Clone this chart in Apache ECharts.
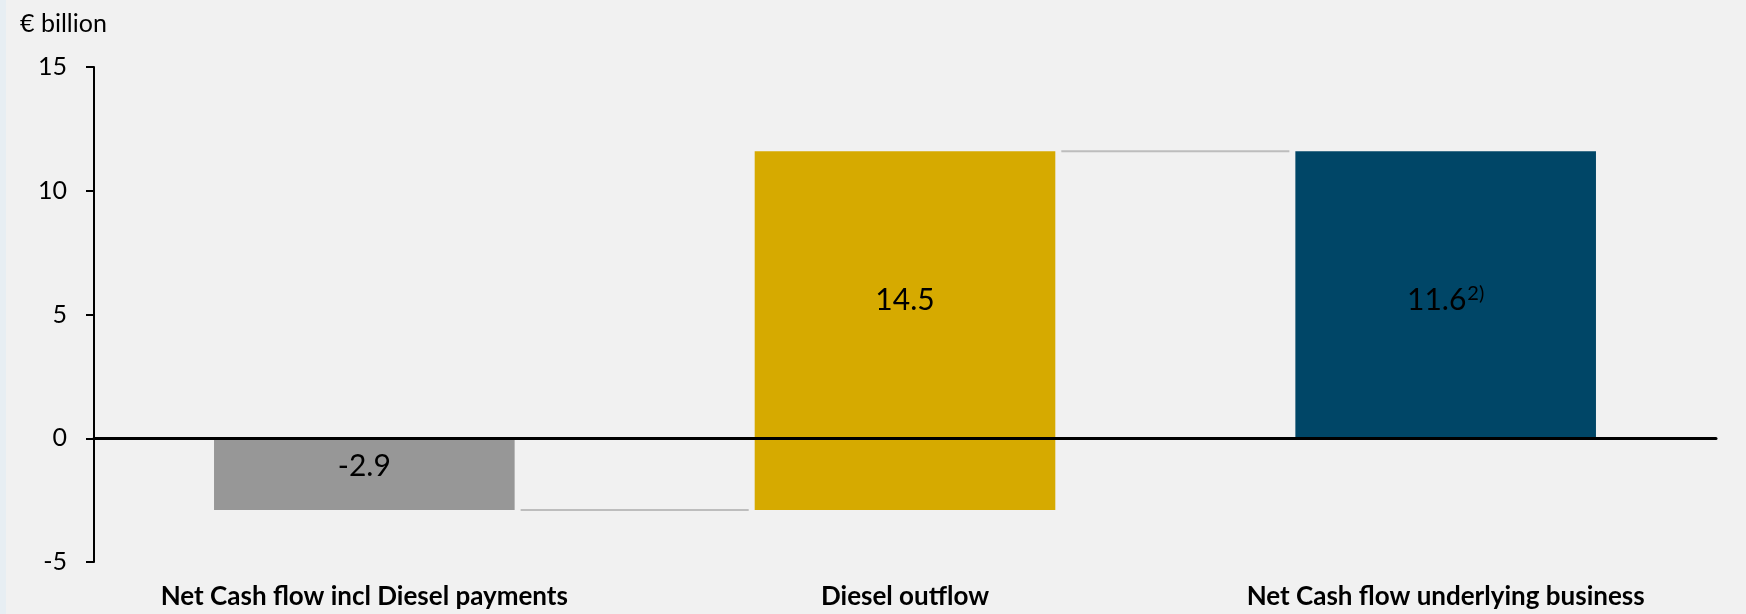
<!DOCTYPE html>
<html>
<head>
<meta charset="utf-8">
<script src="https://cdn.jsdelivr.net/npm/echarts@6/dist/echarts.min.js"></script>
<style>
  html, body { margin: 0; padding: 0; background: #f1f1f1; }
  #chart { width: 1746px; height: 614px; }
</style>
</head>
<body>
<div id="chart"></div>
<script>
// ---- data ----
const unitLabel = '€ billion';
const categories = ['Net Cash flow incl Diesel payments', 'Diesel outflow', 'Net Cash flow underlying business'];
const values = [-2.9, 14.5, 11.6];
const kinds = ['start', 'change', 'total'];
const footnotes = ['', '', '2)'];
const barColors = ['#979797', '#d6aa00', '#004667'];
const labelColors = ['#000000', '#000000', '#ffffff'];
const yTicks = { min: -5, max: 15, interval: 5 };

// ---- waterfall build ----
const rows = [];
let running = 0;
values.forEach((v, i) => {
  let s, e;
  if (kinds[i] === 'total') { s = 0; e = v; running = v; }
  else if (kinds[i] === 'start') { s = 0; e = v; running = v; }
  else { s = running; e = running + v; running = e; }
  rows.push([i, s, e, v]);
});
const connectors = [];
for (let i = 0; i < rows.length - 1; i++) {
  connectors.push([i, i + 1, rows[i][2]]);
}

const FONT = 'Lato';
const BAR_FRAC = 0.556;

const chart = echarts.init(document.getElementById('chart'), null, { renderer: 'canvas' });
chart.setOption({
  backgroundColor: '#f1f1f1',
  animation: false,
  textStyle: { fontFamily: FONT },
  title: {
    text: unitLabel, left: 15, top: 6,
    textStyle: { fontFamily: FONT, fontSize: 25, fontWeight: 'normal', color: '#000' }
  },
  graphic: [{
    type: 'rect', left: 0, top: 0, shape: { width: 6, height: 614 },
    style: { fill: '#e7eef3' }, silent: true
  }],
  grid: { left: 94, right: 30, top: 67, bottom: 52, containLabel: false },
  xAxis: [{
    type: 'category', data: categories, position: 'bottom',
    axisLine: { show: false, onZero: false },
    axisTick: { show: false },
    axisLabel: { fontFamily: FONT, fontSize: 26, fontWeight: 'bold', color: '#000', margin: 22, interval: 0 },
    splitLine: { show: false }
  }, {
    type: 'category', data: categories, position: 'bottom', z: 10,
    axisLine: { show: true, onZero: true, lineStyle: { color: '#000', width: 3 } },
    axisTick: { show: false },
    axisLabel: { show: false },
    splitLine: { show: false }
  }],
  yAxis: {
    type: 'value', min: yTicks.min, max: yTicks.max, interval: yTicks.interval,
    axisLine: { show: true, lineStyle: { color: '#000', width: 2 } },
    axisTick: { show: true, length: 8, lineStyle: { color: '#000', width: 2 } },
    axisLabel: { fontFamily: FONT, fontSize: 25, color: '#000', margin: 27 },
    splitLine: { show: false }
  },
  series: [{
    type: 'custom',
    xAxisIndex: 0,
    data: rows,
    encode: { x: 0, y: [1, 2] },
    renderItem: function (params, api) {
      const i = api.value(0), s = api.value(1), e = api.value(2), v = api.value(3);
      const p0 = api.coord([i, s]);
      const p1 = api.coord([i, e]);
      const bw = api.size([1, 0])[0] * BAR_FRAC;
      const top = Math.min(p0[1], p1[1]);
      const h = Math.abs(p1[1] - p0[1]);
      const mid = api.coord([i, e / 2]);
      const txt = footnotes[i]
        ? '{v|' + v.toFixed(1) + '}{sup|' + footnotes[i] + '}'
        : '{v|' + v.toFixed(1) + '}';
      return {
        type: 'group',
        children: [{
          type: 'rect',
          shape: { x: p0[0] - bw / 2, y: top, width: bw, height: h },
          style: { fill: barColors[i] }
        }, {
          type: 'text',
          x: p0[0], y: mid[1] - (v < 0 ? 8 : -6),
          style: {
            text: txt, align: 'center', verticalAlign: 'middle',
            rich: {
              v: { fontFamily: FONT, fontSize: 30, color: labelColors[i] },
              sup: { fontFamily: FONT, fontSize: 20, color: labelColors[i], verticalAlign: 'top', padding: [0, 0, 14, 1] }
            }
          },
          z2: 5
        }]
      };
    }
  }, {
    type: 'custom',
    xAxisIndex: 0,
    data: connectors,
    encode: { x: [0, 1], y: 2 },
    renderItem: function (params, api) {
      const a = api.coord([api.value(0), api.value(2)]);
      const b = api.coord([api.value(1), api.value(2)]);
      const bw = api.size([1, 0])[0] * BAR_FRAC;
      const gap = 6;
      return {
        type: 'line',
        shape: { x1: a[0] + bw / 2 + gap, y1: a[1], x2: b[0] - bw / 2 - gap, y2: b[1] },
        style: { stroke: '#bdbdbd', lineWidth: 2 }
      };
    }
  }]
});
</script>
</body>
</html>
